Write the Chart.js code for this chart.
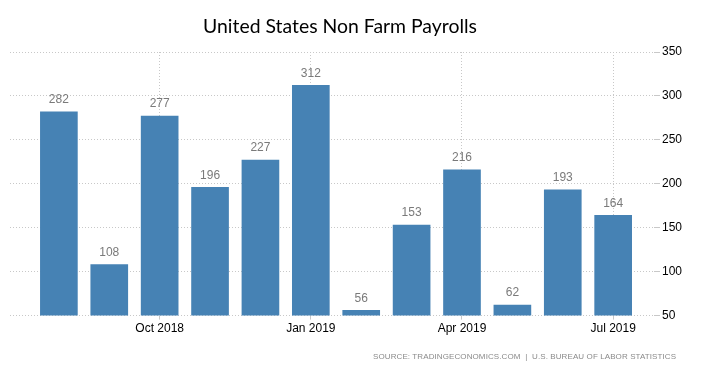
<!DOCTYPE html>
<html><head><meta charset="utf-8">
<script src="https://cdn.jsdelivr.net/npm/chart.js@4/dist/chart.umd.min.js"></script>
<style>
html,body{margin:0;padding:0;background:#fff;}
#wrap{position:relative;width:704px;height:378px;}
#title{position:absolute;left:0;width:680px;top:14px;text-align:center;font:19.4px Lato,sans-serif;color:#000;white-space:nowrap}
#source{position:absolute;left:373px;top:352px;font:8px "Liberation Sans",sans-serif;color:#8a8a8a;letter-spacing:0.1px;white-space:nowrap}
</style></head><body>
<div id="wrap"><canvas id="c" width="704" height="378"></canvas>
<div id="title">United States Non Farm Payrolls</div>
<div id="source">SOURCE: TRADINGECONOMICS.COM &nbsp;|&nbsp; U.S. BUREAU OF LABOR STATISTICS</div></div>
<script>
const months = ["Aug 2018","Sep 2018","Oct 2018","Nov 2018","Dec 2018","Jan 2019","Feb 2019","Mar 2019","Apr 2019","May 2019","Jun 2019","Jul 2019"];
const payrolls = [282,108,277,196,227,312,56,153,216,62,193,164];
const xTickLabels = ["Oct 2018","Jan 2019","Apr 2019","Jul 2019"];
const yTicks = [50,100,150,200,250,300,350];

const xTickIdx = xTickLabels.map(l => months.indexOf(l));
const points = payrolls.map((v,i) => ({x:i, y:v}));

const valueLabels = {
  id:'valueLabels',
  afterDatasetsDraw(chart){
    const ctx = chart.ctx;
    const meta = chart.getDatasetMeta(0);
    ctx.save();
    ctx.font = '12px "Liberation Sans", sans-serif';
    ctx.fillStyle = '#7a7a7a';
    ctx.textAlign = 'center';
    ctx.textBaseline = 'bottom';
    meta.data.forEach((el,i) => {
      ctx.fillText(String(payrolls[i]), el.x, el.y - 6);
    });
    ctx.restore();
  }
};

new Chart(document.getElementById('c'), {
  type:'bar',
  data:{ datasets:[{ label:'Non Farm Payrolls', data: points, backgroundColor:'#4682b4', barThickness:37 }]},
  options:{
    responsive:false, animation:false,
    layout:{ padding:{ left:10, right:20, top:52, bottom:40 } },
    plugins:{ legend:{display:false}, tooltip:{enabled:false}, title:{display:false} },
    scales:{
      x:{ type:'linear', min:-0.97, max:11.81, offset:false,
        afterBuildTicks(axis){ axis.ticks = xTickIdx.map(v => ({value:v})); },
        ticks:{ color:'#000', font:{family:'Liberation Sans', size:12}, padding:2, maxRotation:0, autoSkip:false,
          callback:(v) => xTickLabels[xTickIdx.indexOf(v)] },
        grid:{ color:'#c8c8c8', tickLength:4, offset:false },
        border:{ display:false, dash:[1,2] }
      },
      y:{ position:'right', min:50, max:350,
        afterBuildTicks(axis){ axis.ticks = yTicks.map(v => ({value:v})); },
        ticks:{ color:'#000', font:{family:'Liberation Sans', size:12}, padding:2 },
        grid:{ color:'#c8c8c8', tickLength:6 },
        border:{ display:false, dash:[1,2] }
      }
    }
  },
  plugins:[valueLabels]
});
</script>
</body></html>
